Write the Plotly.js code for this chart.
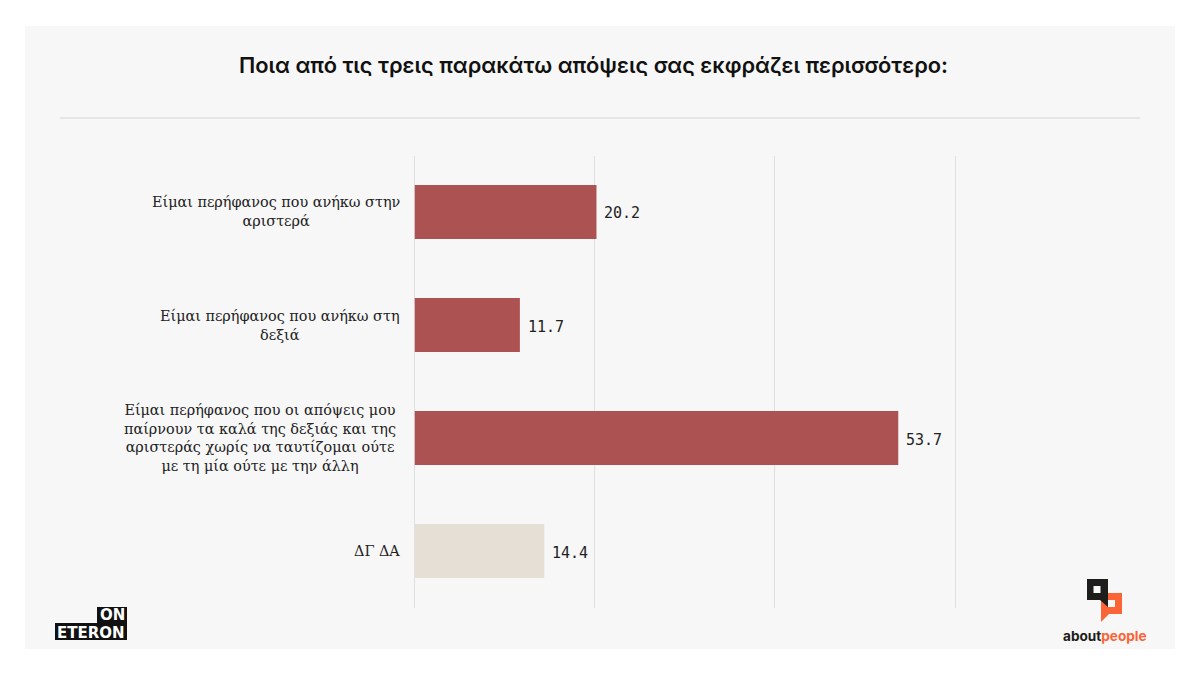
<!DOCTYPE html>
<html><head><meta charset="utf-8">
<script src="https://cdn.plot.ly/plotly-3.0.1.min.js"></script>
<style>html,body{margin:0;padding:0;background:#fff}#c{width:1200px;height:675px}</style>
</head><body><div id="c"></div>
<script>
const categories = ["Είμαι περήφανος που ανήκω στην<br>αριστερά","Είμαι περήφανος που ανήκω στη<br>δεξιά","Είμαι περήφανος που οι απόψεις μου<br>παίρνουν τα καλά της δεξιάς και της<br>αριστεράς χωρίς να ταυτίζομαι ούτε<br>με τη μία ούτε με την άλλη","ΔΓ ΔΑ"];
const values = [20.2,11.7,53.7,14.4];
const barColors = ["#ad5252","#ad5252","#ad5252","#e6dfd6"];
const labelRightEdge = [401.5,401.5,398,401.5];
const titleText = "Ποια από τις τρεις παρακάτω απόψεις σας εκφράζει περισσότερο:";
const W=1200,H=675;
const px=x=>x/W, py=y=>1-y/H;
function rect(x0,y0,x1,y1,c,layer){return {type:"rect",xref:"paper",yref:"paper",x0:px(x0),x1:px(x1),y0:py(y0),y1:py(y1),fillcolor:c,line:{width:0},layer:layer||"above"};}
function poly(pts,c){return {type:"path",xref:"paper",yref:"paper",path:"M"+pts.map(p=>px(p[0])+","+py(p[1])).join("L")+"Z",fillcolor:c,line:{width:0},layer:"above"};}
const shapes=[
 rect(25,26,1175,649,"#f7f7f7","below"),
 rect(60,117,1140,119,"#e6e6e6"),
 rect(97,607,127,624,"#111"),
 rect(55,623,127,640,"#111"),
 poly([[1101,593],[1122,593],[1122,614],[1109,614],[1101,622]],"#fb6436"),
 rect(1108,600,1115,607,"#f7f7f7"),
 poly([[1087,579],[1108,579],[1108,607],[1100,600],[1087,600]],"#1d1d1b"),
 rect(1093.5,586,1100.5,593,"#f7f7f7")
];
const annotations=categories.map((t,i)=>({xref:"paper",yref:"y",x:px(labelRightEdge[i]),y:t,text:t,showarrow:false,xanchor:"right",yanchor:"middle",align:"center",font:{family:"DejaVu Serif",size:14.4,color:"#222"}}));
values.forEach((v,i)=>annotations.push({xref:"x",yref:"y",x:v,y:categories[i],text:v.toFixed(1),showarrow:false,xanchor:"left",yanchor:"middle",xshift:6,yshift:-1.5,font:{family:"DejaVu Sans Mono",size:15,color:"#222"}}));
annotations.push(
 {xref:"paper",yref:"paper",x:px(593.5),y:py(65),text:titleText,showarrow:false,xanchor:"center",yanchor:"middle",font:{family:"Inter",size:21.8,color:"#111",weight:600}},
 {xref:"paper",yref:"paper",x:px(112),y:py(615),text:"ON",showarrow:false,xanchor:"center",yanchor:"middle",font:{family:"DejaVu Sans",size:15,color:"#fff",weight:700}},
 {xref:"paper",yref:"paper",x:px(91),y:py(632.5),text:"ETERON",showarrow:false,xanchor:"center",yanchor:"middle",font:{family:"DejaVu Sans",size:15,color:"#fff",weight:700}},
 {xref:"paper",yref:"paper",x:px(1104.5),y:py(636),text:"about<span style='color:#fb6436'>people</span>",showarrow:false,xanchor:"center",yanchor:"middle",font:{family:"Inter",size:13.6,color:"#1d1d1b",weight:700}}
);
Plotly.newPlot("c",[{type:"bar",orientation:"h",y:categories,x:values,width:0.48,marker:{color:barColors,line:{width:0}},hoverinfo:"skip"}],
{width:W,height:H,margin:{l:0,r:0,t:0,b:0,pad:0},paper_bgcolor:"#ffffff",plot_bgcolor:"#f7f7f7",showlegend:false,
 xaxis:{domain:[414.5/W,957/W],range:[0,60.22],tickvals:[0,20,40,60],showticklabels:false,showgrid:true,gridcolor:"#e0e0e0",gridwidth:1,zeroline:true,zerolinecolor:"#e0e0e0",zerolinewidth:1,ticks:"",automargin:false,fixedrange:true},
 yaxis:{domain:[1-607.5/H,1-155.5/H],type:"category",categoryorder:"array",categoryarray:categories,autorange:false,range:[3.5,-0.5],showticklabels:false,showgrid:false,zeroline:false,ticks:"",automargin:false,fixedrange:true},
 shapes,annotations},{displayModeBar:false,staticPlot:true});
</script></body></html>
